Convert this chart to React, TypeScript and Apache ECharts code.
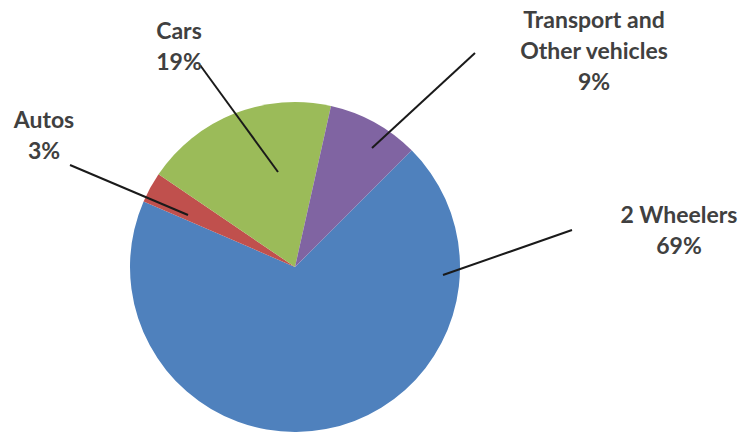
import React, { useEffect, useRef } from 'react';
import * as echarts from 'echarts';

const categories = ['2 Wheelers', 'Autos', 'Cars', 'Transport and Other vehicles'];
const shares = [69, 3, 19, 9];
const labelTexts = ['2 Wheelers', 'Autos', 'Cars', 'Transport and\nOther vehicles'];
const colors = ['#4F81BD', '#C0504D', '#9BBB59', '#8064A2'];

// label block centres and leader-line end points (layout only)
const labelAnchors = [[679, 229], [44, 134], [179, 45], [594, 50]];
const leaderLines = [
  [[572, 230], [443, 275]],
  [[70, 165], [188, 215]],
  [[200, 65], [278, 172]],
  [[475, 53], [372, 148]],
];

export default function App() {
  const ref = useRef<HTMLDivElement>(null);
  useEffect(() => {
    if (!ref.current) return;
    const chart = echarts.init(ref.current, undefined, { renderer: 'svg' });
    const base = {
      type: 'pie',
      center: [295, 267],
      radius: [0, 165],
      startAngle: 45,
      clockwise: true,
      avoidLabelOverlap: false,
      emphasis: { disabled: true },
      silent: true,
    };
    chart.setOption({
      animation: false,
      backgroundColor: '#ffffff',
      series: [
        {
          ...base,
          data: categories.map((c, i) => ({
            name: c,
            value: shares[i],
            itemStyle: { color: colors[i] },
          })),
          itemStyle: { borderWidth: 0 },
          label: { show: false },
          labelLine: { show: false },
        },
        {
          ...base,
          z: 5,
          data: categories.map((c, i) => ({
            name: c,
            value: shares[i],
            itemStyle: { color: 'rgba(0,0,0,0)' },
          })),
          itemStyle: { borderWidth: 0 },
          label: {
            show: true,
            position: 'outside',
            formatter: (p: any) => `${labelTexts[p.dataIndex]}\n${Math.round(p.percent)}%`,
            fontFamily: 'Lato',
            fontWeight: 'bold',
            fontSize: 23,
            lineHeight: 31,
            color: '#404040',
            align: 'center',
          },
          labelLine: {
            show: true,
            smooth: false,
            lineStyle: { color: '#1a1a1a', width: 2 },
          },
          labelLayout: (p: any) => {
            const i = p.dataIndex;
            const [a, b] = leaderLines[i];
            return {
              x: labelAnchors[i][0],
              y: labelAnchors[i][1],
              align: 'center',
              verticalAlign: 'middle',
              labelLinePoints: [a, [(a[0] + b[0]) / 2, (a[1] + b[1]) / 2], b],
            };
          },
        },
      ],
    });
    return () => chart.dispose();
  }, []);
  return (
    <div
      ref={ref}
      style={{ position: 'fixed', left: 0, top: 0, width: 746, height: 432 }}
    />
  );
}
